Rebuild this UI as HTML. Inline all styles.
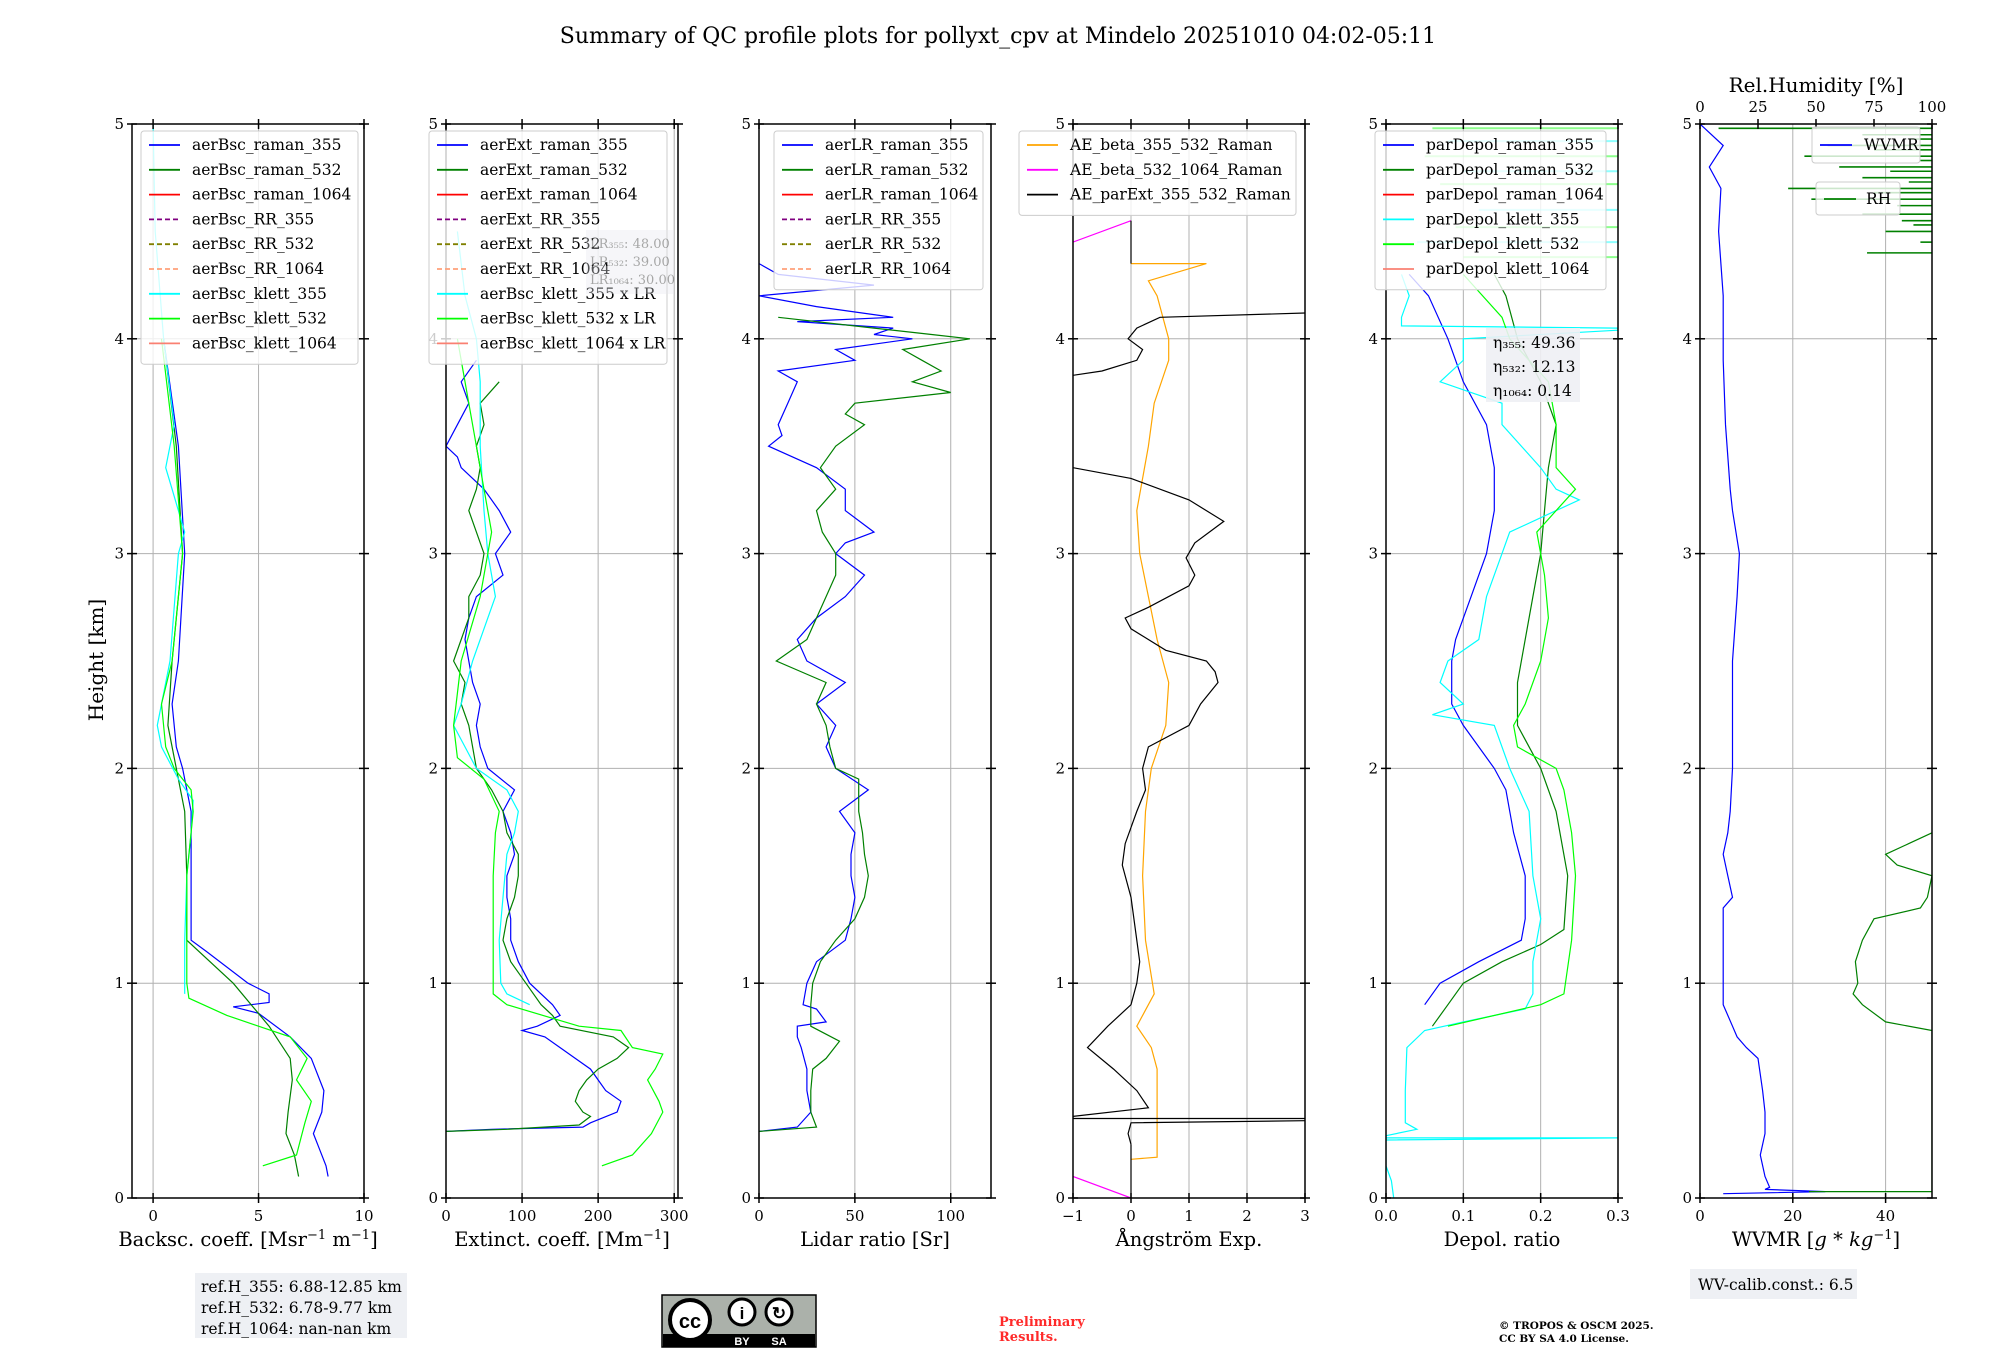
<!DOCTYPE html>
<html><head><meta charset="utf-8"><style>
body{margin:0;background:#fff;}
svg{display:block;font-family:"DejaVu Serif","Liberation Serif",serif;}
</style></head><body>
<svg id="chart" width="2000" height="1360" viewBox="0 0 2000 1360" xmlns="http://www.w3.org/2000/svg">
<text x="998" y="43" font-size="22" text-anchor="middle">Summary of QC profile plots for pollyxt_cpv at Mindelo 20251010 04:02-05:11</text>
<text transform="translate(103,660) rotate(-90)" font-size="20" text-anchor="middle">Height [km]</text>
<g id="plots"></g>
<g>
<rect x="195" y="1273" width="212" height="65" fill="#eef0f4"/>
<text x="201" y="1292" font-size="15.5">ref.H_355: 6.88-12.85 km</text>
<text x="201" y="1313" font-size="15.5">ref.H_532: 6.78-9.77 km</text>
<text x="201" y="1334" font-size="15.5">ref.H_1064: nan-nan km</text>
</g>
<g>
<rect x="662" y="1295" width="154" height="52" fill="#abb1aa" stroke="#000" stroke-width="1.5"/>
<rect x="663" y="1334" width="152" height="13" fill="#000"/>
<circle cx="690" cy="1320" r="20" fill="#fff" stroke="#000" stroke-width="4"/>
<text x="690" y="1328" font-size="20" font-weight="bold" text-anchor="middle" font-family="Liberation Sans,sans-serif">cc</text>
<circle cx="742" cy="1312" r="13" fill="#fff" stroke="#000" stroke-width="3"/>
<text x="742" y="1319" font-size="17" font-weight="bold" text-anchor="middle" font-family="Liberation Sans,sans-serif">i</text>
<circle cx="779" cy="1312" r="13" fill="#fff" stroke="#000" stroke-width="3"/>
<text x="779" y="1319" font-size="17" font-weight="bold" text-anchor="middle" font-family="Liberation Sans,sans-serif">↻</text>
<text x="742" y="1345" font-size="11" fill="#fff" font-weight="bold" text-anchor="middle" font-family="Liberation Sans,sans-serif">BY</text>
<text x="779" y="1345" font-size="11" fill="#fff" font-weight="bold" text-anchor="middle" font-family="Liberation Sans,sans-serif">SA</text>
</g>
<text x="999" y="1326" font-size="13" fill="#ff2a2a" font-weight="bold">Preliminary</text>
<text x="999" y="1341" font-size="13" fill="#ff2a2a" font-weight="bold">Results.</text>
<text x="1499" y="1329" font-size="10.5" font-weight="bold">© TROPOS &amp; OSCM 2025.</text>
<text x="1499" y="1342" font-size="10.5" font-weight="bold">CC BY SA 4.0 License.</text>
<g>
<rect x="1690" y="1269" width="167" height="30" fill="#eef0f4"/>
<text x="1698" y="1290" font-size="15.5">WV-calib.const.: 6.5</text>
</g>
</svg>
<script>
const bsc355H=[4.0,3.5,3.0,2.5,2.3,2.1,2.0,1.8,1.5,1.2,1.15,1.0,0.95,0.91,0.89,0.86,0.75,0.65,0.5,0.4,0.3,0.25,0.15,0.1];
const bsc355V=[0.5,1.2,1.5,1.2,0.9,1.1,1.4,1.8,1.8,1.8,2.5,4.5,5.5,5.5,3.8,5.0,6.5,7.5,8.1,8.0,7.6,7.8,8.2,8.3];
const bsc532H=[4.0,3.5,3.0,2.5,2.2,2.0,1.8,1.5,1.2,1.0,0.8,0.65,0.55,0.4,0.3,0.2,0.1];
const bsc532V=[0.5,1.1,1.4,0.9,0.7,1.1,1.5,1.6,1.6,3.8,5.5,6.5,6.6,6.4,6.3,6.7,6.9];
const bscK355H=[5.0,4.5,4.0,3.6,3.4,3.3,3.1,3.0,2.5,2.2,2.1,1.95,1.85,1.7,1.5,1.2,0.95];
const bscK355V=[0.0,0.1,0.5,1.0,0.6,0.9,1.5,1.2,0.8,0.2,0.4,1.2,1.9,1.8,1.6,1.5,1.5];
const bscK532H=[4.0,3.5,3.0,2.5,2.3,2.1,2.0,1.9,1.8,1.5,1.0,0.93,0.85,0.8,0.75,0.65,0.55,0.45,0.35,0.2,0.15];
const bscK532V=[0.4,1.0,1.4,0.9,0.4,0.6,1.0,1.8,1.9,1.6,1.6,1.7,3.5,5.0,6.5,7.3,6.8,7.5,7.2,6.8,5.2];

const ext355H=[3.9,3.8,3.7,3.6,3.5,3.45,3.4,3.3,3.2,3.1,3.0,2.9,2.8,2.7,2.6,2.5,2.4,2.3,2.2,2.1,2.0,1.9,1.8,1.7,1.6,1.5,1.4,1.3,1.2,1.1,1.0,0.9,0.85,0.8,0.78,0.75,0.7,0.65,0.6,0.55,0.5,0.45,0.4,0.35,0.33,0.32,0.31];
const ext355V=[40,20,30,15,0,15,20,50,70,85,65,75,40,30,25,30,35,45,40,45,55,90,75,85,90,80,80,85,85,95,110,140,150,120,100,130,150,170,190,200,210,230,225,190,180,60,0];
const ext532H=[3.8,3.7,3.6,3.5,3.4,3.3,3.2,3.1,3.0,2.9,2.8,2.7,2.6,2.5,2.4,2.3,2.2,2.1,2.0,1.9,1.8,1.7,1.6,1.5,1.4,1.3,1.2,1.1,1.0,0.9,0.85,0.8,0.75,0.7,0.65,0.6,0.55,0.5,0.45,0.4,0.38,0.34,0.32,0.31];
const ext532V=[70,45,50,40,45,40,30,40,50,45,30,30,20,10,25,20,30,35,40,60,75,80,95,95,90,80,75,85,105,125,140,150,220,240,225,200,185,175,170,180,190,175,80,0];
const extK355H=[4.5,4.2,4.0,3.8,3.5,3.2,3.0,2.8,2.6,2.5,2.3,2.2,2.1,2.0,1.9,1.8,1.7,1.6,1.4,1.2,1.0,0.95,0.9];
const extK355V=[15,25,40,45,45,50,55,65,45,35,20,10,25,40,80,95,90,80,75,70,72,80,110];
const extK532H=[4.0,3.5,3.1,2.8,2.5,2.2,2.05,1.95,1.8,1.7,1.5,1.2,0.95,0.9,0.8,0.78,0.7,0.67,0.6,0.55,0.45,0.4,0.3,0.2,0.15];
const extK532V=[15,40,60,45,20,10,15,50,70,65,62,62,62,80,175,230,245,285,275,265,280,285,270,245,205];

const lr355H=[0.31,0.33,0.4,0.5,0.6,0.7,0.75,0.8,0.82,0.88,0.9,1.0,1.1,1.2,1.3,1.4,1.5,1.6,1.7,1.8,1.9,2.0,2.1,2.2,2.3,2.4,2.5,2.6,2.7,2.8,2.9,3.0,3.05,3.1,3.2,3.3,3.4,3.5,3.55,3.6,3.7,3.8,3.85,3.9,3.95,4.0,4.02,4.05,4.08,4.1,4.15,4.2,4.25,4.3,4.35];
const lr355V=[0,20,27,25,25,22,20,20,35,30,23,25,30,45,48,50,48,48,50,42,57,40,35,40,30,45,25,20,30,45,55,40,45,60,45,45,30,5,12,10,15,20,10,50,40,80,60,70,20,70,30,0,60,10,0];
const lr532H=[0.31,0.33,0.4,0.5,0.6,0.65,0.73,0.8,0.9,1.0,1.1,1.2,1.3,1.4,1.5,1.6,1.7,1.8,1.95,2.0,2.1,2.2,2.3,2.4,2.5,2.6,2.7,2.8,2.9,3.0,3.1,3.2,3.3,3.4,3.5,3.6,3.65,3.7,3.75,3.8,3.85,3.9,3.95,4.0,4.02,4.05,4.1];
const lr532V=[0,30,27,27,28,35,42,27,27,28,32,40,50,55,57,55,54,52,52,40,37,35,30,35,9,25,30,35,40,40,33,30,40,32,40,55,45,50,100,80,95,85,75,110,90,60,10];

const aeOrH=[0.18,0.19,0.35,0.6,0.7,0.8,0.95,1.2,1.5,1.8,2.0,2.2,2.4,2.6,2.8,3.0,3.2,3.5,3.7,3.9,4.0,4.2,4.27,4.35,4.35];
const aeOrV=[0,0.45,0.45,0.45,0.35,0.1,0.4,0.25,0.2,0.25,0.35,0.6,0.65,0.45,0.3,0.15,0.1,0.3,0.4,0.65,0.65,0.45,0.3,1.3,0];
const aeMagTopH=[4.45,4.55];
const aeMagTopV=[-1,0];
const aeMagBotH=[0.1,0.0];
const aeMagBotV=[-1,0];
const aeBlkTopH=[4.12,4.1,4.05,4.0,3.95,3.9,3.85,3.83];
const aeBlkTopV=[3,0.5,0.1,-0.05,0.2,0.1,-0.5,-1];
const aeBlkMidH=[3.4,3.35,3.25,3.15,3.05,2.98,2.9,2.85,2.75,2.7,2.65,2.55,2.5,2.45,2.4,2.3,2.2,2.1,2.0,1.9,1.8,1.65,1.55,1.4,1.2,1.1,1.0,0.9,0.8,0.7,0.6,0.5,0.42,0.38,0.37,0.37];
const aeBlkMidV=[-1,0,1,1.6,1.1,0.95,1.1,1.0,0.3,-0.1,0,0.6,1.3,1.45,1.5,1.2,1.0,0.3,0.2,0.25,0.1,-0.1,-0.15,0,0.1,0.15,0.1,0,-0.4,-0.75,-0.3,0.1,0.3,-1,-1,3];
const aeBlkLowH=[0.36,0.35,0.3,0.25];
const aeBlkLowV=[3,0,-0.05,0];

const dp355H=[0.9,1.0,1.1,1.2,1.3,1.5,1.7,1.9,2.0,2.2,2.3,2.5,2.6,2.8,3.0,3.2,3.4,3.6,3.8,4.0,4.2,4.3];
const dp355V=[0.05,0.07,0.12,0.175,0.18,0.18,0.165,0.155,0.14,0.1,0.085,0.085,0.09,0.11,0.13,0.14,0.14,0.13,0.10,0.08,0.055,0.03];
const dp532H=[0.8,0.9,1.0,1.1,1.18,1.25,1.5,1.8,2.0,2.2,2.4,2.6,2.8,3.0,3.2,3.4,3.6,3.8,4.0,4.2,4.3];
const dp532V=[0.06,0.08,0.1,0.15,0.2,0.23,0.235,0.22,0.2,0.17,0.17,0.18,0.19,0.2,0.205,0.21,0.22,0.2,0.17,0.155,0.14];
const dpK355H=[0.0,0.08,0.15,0.27,0.28,0.28,0.29,0.32,0.35,0.5,0.7,0.78,0.82,0.88,0.95,1.1,1.3,1.5,1.8,2.0,2.2,2.25,2.3,2.4,2.5,2.6,2.8,3.0,3.1,3.2,3.25,3.3,3.4,3.6,3.7,3.8,3.9,4.0,4.04,4.05,4.06,4.1,4.2,4.3];
const dpK355V=[0.01,0.007,0.0,0.0,0.3,0.0,0.0,0.04,0.025,0.025,0.027,0.05,0.1,0.18,0.19,0.19,0.2,0.19,0.185,0.16,0.14,0.06,0.1,0.07,0.08,0.12,0.13,0.15,0.16,0.22,0.25,0.22,0.2,0.15,0.15,0.07,0.1,0.1,0.3,0.3,0.02,0.02,0.03,0.02];
const dpK532H=[0.8,0.9,0.95,1.2,1.5,1.7,1.9,2.0,2.1,2.2,2.3,2.5,2.7,2.9,3.1,3.2,3.3,3.4,3.6,3.8,4.0,4.1,4.3];
const dpK532V=[0.08,0.2,0.23,0.24,0.245,0.24,0.23,0.22,0.17,0.165,0.18,0.2,0.21,0.205,0.195,0.22,0.245,0.22,0.22,0.21,0.16,0.15,0.1];
const dpStreakH=[4.98,4.92,4.85,4.78,4.72,4.6,4.52,4.45,4.38];
const dpStreakV=[0.06,0.08,0.05,0.1,0.07,0.12,0.09,0.04,0.1];

const wvH=[0.02,0.03,0.04,0.05,0.1,0.2,0.3,0.4,0.5,0.65,0.7,0.75,0.8,0.9,1.0,1.2,1.35,1.4,1.5,1.6,1.7,1.8,2.0,2.3,2.5,2.8,3.0,3.2,3.3,3.6,3.9,4.2,4.5,4.7,4.8,4.9,5.0];
const wvV=[5,27,14,15,14,13,14,14,13.5,12.5,10,8,7,5,5,5,5,7,6,5,6,6.5,7,7,7,8,8.5,7,6.5,5.5,5,5,4,4.5,2,5,0];
const rhH=[0.03,0.03,0.78,0.82,0.9,0.95,1.0,1.1,1.2,1.3,1.35,1.4,1.5,1.55,1.6,1.65,1.7];
const rhV=[47,100,100,80,70,66,68,67,70,75,95,98,100,85,80,90,100];
const rhSpikeH=[4.4,4.45,4.5,4.53,4.55,4.58,4.62,4.65,4.68,4.7,4.73,4.75,4.78,4.8,4.83,4.85,4.88,4.9,4.93,4.95,4.98];
const rhSpikeV=[72,95,80,92,87,70,85,48,75,38,90,70,82,60,95,45,75,55,90,70,8];

const panels=[
 {name:'backscatter',left:132,xmin:-1,xmax:10,ticks:[0,5,10],tl:['0','5','10'],label:'Backsc. coeff. [Msr<tspan dy="-7" font-size="13">−1</tspan><tspan dy="7"> m</tspan><tspan dy="-7" font-size="13">−1</tspan><tspan dy="7">]</tspan>',
  series:[[bsc355H,bsc355V,'#0000ff'],[bsc532H,bsc532V,'#008000'],[bscK355H,bscK355V,'#00ffff'],[bscK532H,bscK532V,'#00ff00']]},
 {name:'extinction',left:446,xmin:0,xmax:305,ticks:[0,100,200,300],tl:['0','100','200','300'],label:'Extinct. coeff. [Mm<tspan dy="-7" font-size="13">−1</tspan><tspan dy="7">]</tspan>',
  series:[[ext355H,ext355V,'#0000ff'],[ext532H,ext532V,'#008000'],[extK355H,extK355V,'#00ffff'],[extK532H,extK532V,'#00ff00']]},
 {name:'lidar-ratio',left:759,xmin:0,xmax:121,ticks:[0,50,100],tl:['0','50','100'],label:'Lidar ratio [Sr]',
  series:[[lr355H,lr355V,'#0000ff'],[lr532H,lr532V,'#008000']]},
 {name:'angstrom',left:1073,xmin:-1,xmax:3,ticks:[-1,0,1,2,3],tl:['−1','0','1','2','3'],label:'Ångström Exp.',
  series:[[aeOrH,aeOrV,'#ffa500'],[aeMagTopH,aeMagTopV,'#ff00ff'],[aeMagBotH,aeMagBotV,'#ff00ff'],[aeBlkTopH,aeBlkTopV,'#000'],[aeBlkMidH,aeBlkMidV,'#000'],[aeBlkLowH,aeBlkLowV,'#000'],[[0,0.25],[0,0],'#000'],[[4.35,4.55],[0,0],'#000']]},
 {name:'depol',left:1386,xmin:0,xmax:0.3,ticks:[0,0.1,0.2,0.3],tl:['0.0','0.1','0.2','0.3'],label:'Depol. ratio',
  series:[[dp355H,dp355V,'#0000ff'],[dp532H,dp532V,'#008000'],[dpK355H,dpK355V,'#00ffff'],[dpK532H,dpK532V,'#00ff00']]},
 {name:'wvmr',left:1700,xmin:0,xmax:50,ticks:[0,20,40],tl:['0','20','40'],label:'WVMR [<tspan font-style="italic">g</tspan> * <tspan font-style="italic">kg</tspan><tspan dy="-7" font-size="13">−1</tspan><tspan dy="7">]</tspan>',
  series:[[wvH,wvV,'#0000ff']]}
];
const W=232,TOP=124,BOT=1198,HMAX=5;
const NS='http://www.w3.org/2000/svg';
const root=document.getElementById('plots');
function el(tag,attrs,parent){const e=document.createElementNS(NS,tag);for(const k in attrs)e.setAttribute(k,attrs[k]);(parent||root).appendChild(e);return e;}
const yS=h=>BOT-(h/HMAX)*(BOT-TOP);

panels.forEach((p,pi)=>{
 const g=el('g',{});
 
 
 const xS=v=>p.left+(v-p.xmin)/(p.xmax-p.xmin)*W;
 p.ticks.forEach(t=>{const x=xS(t);if(x>p.left+1&&x<p.left+W-1)el('line',{x1:x,x2:x,y1:TOP,y2:BOT,stroke:'#b0b0b0','stroke-width':1},g);});
 for(let h=1;h<5;h++)el('line',{x1:p.left,x2:p.left+W,y1:yS(h),y2:yS(h),stroke:'#b0b0b0','stroke-width':1},g);
 const clipId='clip'+pi;
 const cp=el('clipPath',{id:clipId},g);el('rect',{x:p.left,y:TOP,width:W,height:BOT-TOP},cp);
 const sg=el('g',{'clip-path':'url(#'+clipId+')'},g);
 if(p.name==='depol'){
  dpStreakH.forEach((h,i)=>{
   const ln=el('line',{x1:xS(dpStreakV[i]),x2:xS(0.3),y1:yS(h),y2:yS(h),stroke:i%2?'#00ffff':'#00ff00','stroke-width':2,'stroke-opacity':0.45},sg);
   
   
  });
 }
 p.series.forEach((s,si)=>{
  const pts=s[0].map((h,i)=>xS(s[1][i]).toFixed(1)+','+yS(h).toFixed(1)).join(' ');
  const pl=el('polyline',{points:pts,fill:'none',stroke:s[2],'stroke-width':1.2},sg);
  
  
 });
 if(p.name==='wvmr'){
  const rS=v=>p.left+v/100*W;
  const pts=rhH.map((h,i)=>rS(rhV[i]).toFixed(1)+','+yS(h).toFixed(1)).join(' ');
  const pl=el('polyline',{points:pts,fill:'none',stroke:'#008000','stroke-width':1.2},sg);
  
  
  rhSpikeH.forEach((h,i)=>{
   const ln=el('line',{x1:rS(rhSpikeV[i]),x2:rS(100),y1:yS(h),y2:yS(h),stroke:'#008000','stroke-width':1.6},sg);
   
   
  });
  el('text',{x:p.left+W/2,y:92,'font-size':20,'text-anchor':'middle'},g).textContent='Rel.Humidity [%]';
  [0,25,50,75,100].forEach(t=>{const x=rS(t);el('line',{x1:x,x2:x,y1:TOP-5,y2:TOP+5,stroke:'#000','stroke-width':1.5},g);el('text',{x:x,y:112,'font-size':15,'text-anchor':'middle'},g).textContent=String(t);});
 }
 el('rect',{x:p.left,y:TOP,width:W,height:BOT-TOP,fill:'none',stroke:'#000','stroke-width':1.5},g);
 p.ticks.forEach((t,i)=>{const x=xS(t);
  el('line',{x1:x,x2:x,y1:BOT-5,y2:BOT+5,stroke:'#000','stroke-width':1.5},g);
  if(p.name!=='wvmr')el('line',{x1:x,x2:x,y1:TOP-5,y2:TOP+5,stroke:'#000','stroke-width':1.5},g);
  el('text',{x:x,y:BOT+23,'font-size':15,'text-anchor':'middle'},g).textContent=p.tl[i];});
 for(let h=0;h<=5;h++){const y=yS(h);
  el('line',{x1:p.left-5,x2:p.left+5,y1:y,y2:y,stroke:'#000','stroke-width':1.5},g);
  el('line',{x1:p.left+W-5,x2:p.left+W+5,y1:y,y2:y,stroke:'#000','stroke-width':1.5},g);
  el('text',{x:p.left-8,y:y+5,'font-size':15,'text-anchor':'end'},g).textContent=String(h);}
 const lb=el('text',{x:p.left+W/2,y:1246,'font-size':19.5,'text-anchor':'middle'},g);
 lb.innerHTML=p.label;
 
 
});

const legends=[
 {x:141,y:131,w:217,names:['aerBsc_raman_355','aerBsc_raman_532','aerBsc_raman_1064','aerBsc_RR_355','aerBsc_RR_532','aerBsc_RR_1064','aerBsc_klett_355','aerBsc_klett_532','aerBsc_klett_1064']},
 {x:429,y:131,w:238,names:['aerExt_raman_355','aerExt_raman_532','aerExt_raman_1064','aerExt_RR_355','aerExt_RR_532','aerExt_RR_1064','aerBsc_klett_355 x LR','aerBsc_klett_532 x LR','aerBsc_klett_1064 x LR']},
 {x:774,y:131,w:209,names:['aerLR_raman_355','aerLR_raman_532','aerLR_raman_1064','aerLR_RR_355','aerLR_RR_532','aerLR_RR_1064']},
 {x:1019,y:131,w:277,names:['AE_beta_355_532_Raman','AE_beta_532_1064_Raman','AE_parExt_355_532_Raman'],cols:['#ffa500','#ff00ff','#000']},
 {x:1375,y:131,w:231,names:['parDepol_raman_355','parDepol_raman_532','parDepol_raman_1064','parDepol_klett_355','parDepol_klett_532','parDepol_klett_1064']}
];
const defCols=['#0000ff','#008000','#ff0000','#800080','#808000','#ffa07a','#00ffff','#00ff00','#fa8072'];
const depCols=['#0000ff','#008000','#ff0000','#00ffff','#00ff00','#fa8072'];
legends.forEach((L,li)=>{
 const g=el('g',{});
 
 
 const n=L.names.length;
 el('rect',{x:L.x,y:L.y,width:L.w,height:n*24.8+10,rx:3,fill:'#fff','fill-opacity':0.8,stroke:'#ccc','stroke-width':1},g);
 L.names.forEach((nm,i)=>{
  const cy=L.y+14+i*24.8;
  let c=L.cols?L.cols[i]:(li===4?depCols[i]:defCols[i]);
  const dashed=!L.cols&&li!==4&&i>=3&&i<=5;
  el('line',{x1:L.x+8,x2:L.x+39,y1:cy,y2:cy,stroke:c,'stroke-width':1.8,'stroke-dasharray':dashed?'5,3':'none'},g);
  const t=el('text',{x:L.x+51,y:cy+5,'font-size':15.5},g);t.textContent=nm;
  
  
 });
});
{const g=el('g',{opacity:0.35});
 
 
 el('rect',{x:586,y:230,width:88,height:64,fill:'#e6e8ee'},g);
 ['LR\u2083\u2085\u2085: 48.00','LR\u2085\u2083\u2082: 39.00','LR\u2081\u2080\u2086\u2084: 30.00'].forEach((s,i)=>{el('text',{x:590,y:248+i*18,'font-size':13},g).textContent=s;});}
{const g=el('g',{});
 
 
 el('rect',{x:1486,y:328,width:94,height:74,fill:'#eef0f4','fill-opacity':0.9},g);
 ['η\u2083\u2085\u2085: 49.36','η\u2085\u2083\u2082: 12.13','η\u2081\u2080\u2086\u2084: 0.14'].forEach((s,i)=>{el('text',{x:1493,y:348+i*24,'font-size':15.5},g).textContent=s;});}
{const g=el('g',{});
 
 
 el('rect',{x:1812,y:127,width:108,height:36,rx:3,fill:'#fff','fill-opacity':0.8,stroke:'#ccc'},g);
 el('line',{x1:1820,x2:1852,y1:145,y2:145,stroke:'#0000ff','stroke-width':1.8},g);
 el('text',{x:1864,y:150,'font-size':15.5},g).textContent='WVMR';
 const g2=el('g',{});
 
 
 el('rect',{x:1816,y:182,width:84,height:33,rx:3,fill:'#fff','fill-opacity':0.8,stroke:'#ccc'},g2);
 el('line',{x1:1824,x2:1856,y1:199,y2:199,stroke:'#008000','stroke-width':1.8},g2);
 el('text',{x:1866,y:204,'font-size':15.5},g2).textContent='RH';}
</script>
</body></html>
